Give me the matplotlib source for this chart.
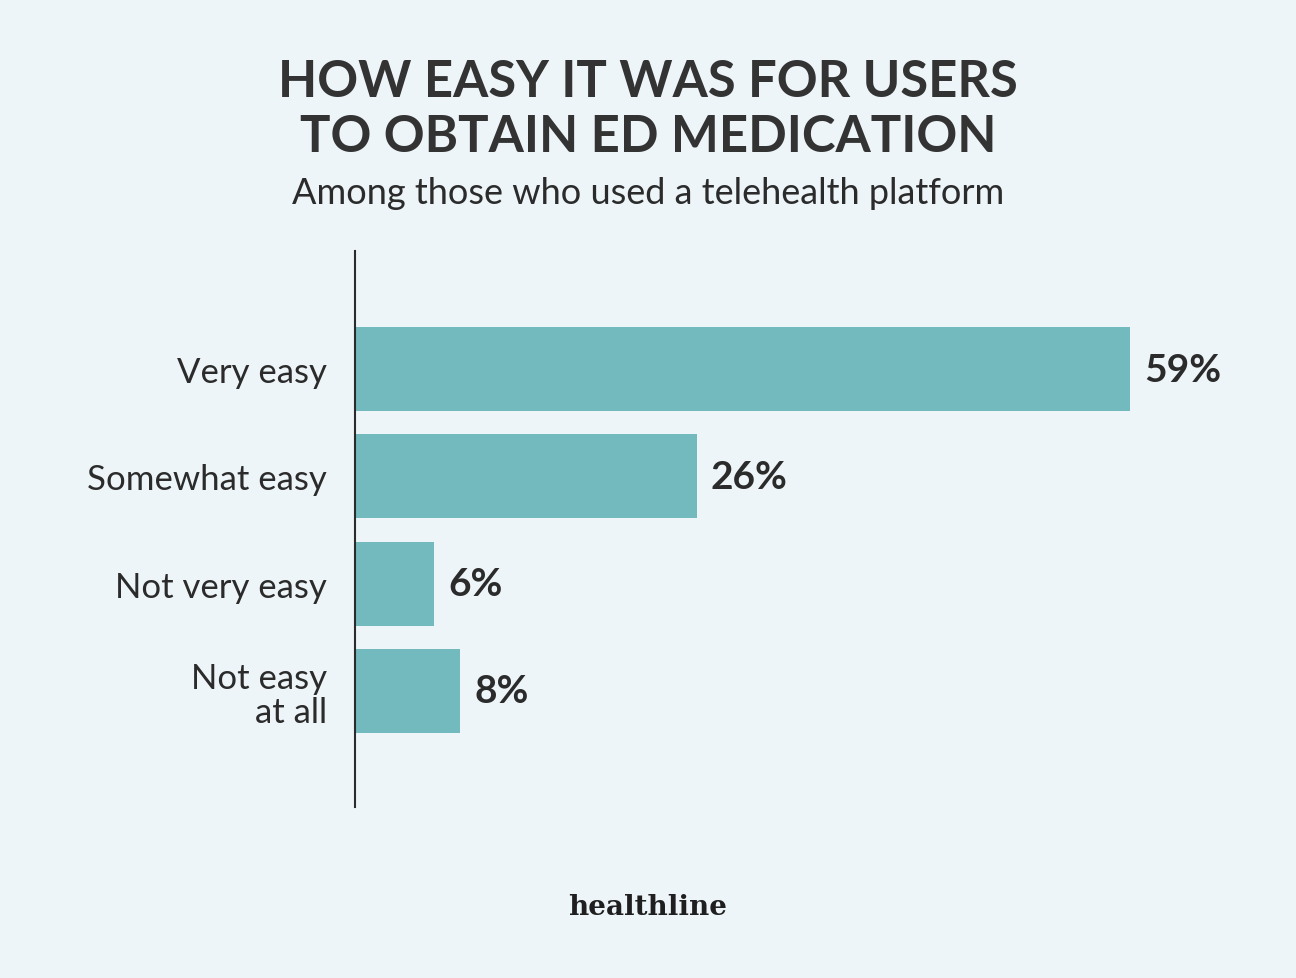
import matplotlib.pyplot as plt

categories = ["Very easy", "Somewhat easy", "Not very easy", "Not easy\nat all"]
values = [59, 26, 6, 8]
value_labels = ["59%", "26%", "6%", "8%"]

bg = "#edf5f8"
bar_color = "#72babd"
text_color = "#2b2b2b"

fig = plt.figure(figsize=(12.96, 9.79), dpi=100, facecolor=bg)
ax = fig.add_axes([355 / 1296, 1 - 808 / 979, 1 - 355 / 1296, (808 - 252) / 979])
ax.set_facecolor(bg)

y = list(range(len(categories)))
ax.barh(y, values, height=0.785, color=bar_color)
ax.set_xlim(0, 59 * (1296 - 355) / 775)
ax.set_ylim(3 + 1.084, -1.103)

for yi, v, lab in zip(y, values, value_labels):
    ax.text(v + 1.1, yi, lab, va="center", ha="left", fontsize=28,
            fontweight="bold", color=text_color, family="Lato")

ax.set_yticks(y)
ax.set_yticklabels(categories, fontsize=25, color=text_color, family="Lato",
                   ha="right", linespacing=1.1)
ax.tick_params(axis="y", length=0, pad=20)
ax.set_xticks([])
for s in ["top", "right", "bottom"]:
    ax.spines[s].set_visible(False)
ax.spines["left"].set_color(text_color)
ax.spines["left"].set_linewidth(1.5)

fig.text(0.5, 1 - 110 / 979, "HOW EASY IT WAS FOR USERS\nTO OBTAIN ED MEDICATION",
         ha="center", va="center", fontsize=36.5, fontweight="bold",
         color="#333333", family="Lato", linespacing=1.2)
fig.text(0.5, 1 - 193 / 979, "Among those who used a telehealth platform",
         ha="center", va="center", fontsize=26, color=text_color, family="Lato")
fig.text(0.5, 1 - 908 / 979, "healthline", ha="center", va="center",
         fontsize=20, fontweight="bold", color="#1f1f1f", family="DejaVu Serif")

fig.savefig("out.png", dpi=100, facecolor=bg)
